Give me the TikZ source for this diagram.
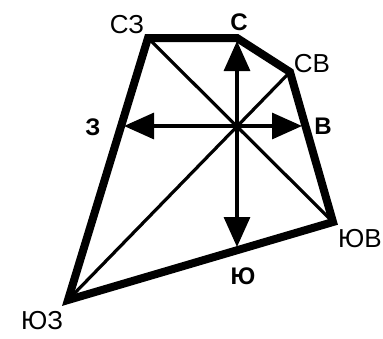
\documentclass[tikz,border=0pt]{standalone}
\usepackage{fontspec}
\setmainfont{Liberation Sans}
\usetikzlibrary{arrows.meta}
\begin{document}
\begin{tikzpicture}[x=1pt,y=-1pt,
  thickline/.style={line width=8pt,line join=miter},
  thinline/.style={line width=3.2pt},
  arr/.style={line width=3.2pt,-{Triangle[length=30pt,width=26pt]},shorten >=3pt},
  lbl/.style={inner sep=0pt,font=\fontsize{26}{26}\selectfont},
  blbl/.style={inner sep=0pt,font=\fontsize{24}{24}\selectfont\bfseries}]
\useasboundingbox (0,0) rectangle (383,338);
\coordinate (NW) at (148,38);
\coordinate (N) at (237,38);
\coordinate (NE) at (290,72);
\coordinate (SE) at (333,222);
\coordinate (SW) at (68,300);
\coordinate (O) at (237,126);
\coordinate (W) at (121,126);
\coordinate (E) at (305,126);
\coordinate (S) at (237,250);
% diagonals
\draw[thinline] (NW) -- (SE);
\draw[thinline] (SW) -- (NE);
% arrows
\draw[arr] (O) -- (N);
\draw[arr] (O) -- (S);
\draw[arr] (O) -- (W);
\draw[arr] (O) -- (E);
% outline
\draw[thickline] (NW) -- (N) -- (NE) -- (SE) -- (SW) -- cycle;
% labels
\node[lbl] (lNW) at (127,25) {СЗ};
\node[blbl] (lN) at (239,22) {С};
\node[lbl] (lNE) at (312,64) {СВ};
\node[blbl] (lW) at (93,127) {З};
\node[blbl] (lE) at (323,126) {В};
\node[lbl] (lSE) at (360,239) {ЮВ};
\node[blbl] (lS) at (243,276) {Ю};
\node[lbl] (lSW) at (42,321) {ЮЗ};
\end{tikzpicture}
\end{document}
